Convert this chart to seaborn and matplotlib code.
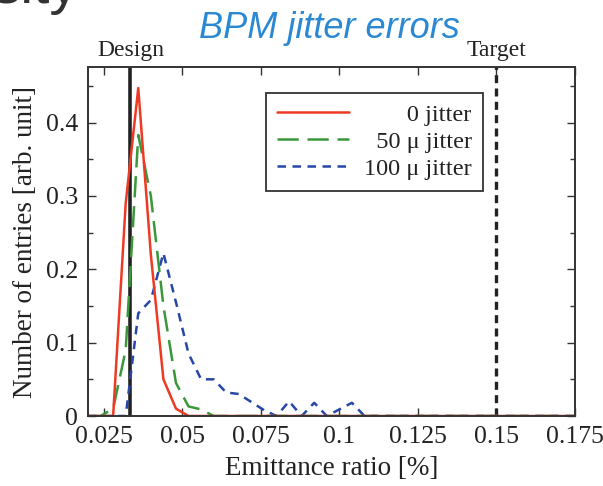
import numpy as np
import pandas as pd
import matplotlib
matplotlib.use("Agg")
import matplotlib.pyplot as plt
import seaborn as sns

# ---- data ----
emittance = [0.020, 0.024, 0.028, 0.032, 0.036, 0.040, 0.044, 0.048, 0.052, 0.056,
             0.060, 0.064, 0.068, 0.072, 0.076, 0.080, 0.084, 0.088, 0.092, 0.096,
             0.100, 0.104, 0.108, 0.112, 0.116, 0.120, 0.124, 0.128, 0.132, 0.136,
             0.140, 0.144, 0.148, 0.152, 0.156, 0.160, 0.164, 0.168, 0.172, 0.176]
jitter_0 = [0, 0, 0, 0.29, 0.447, 0.22, 0.05, 0.01, 0, 0,
            0, 0, 0, 0, 0, 0, 0, 0, 0, 0,
            0, 0, 0, 0, 0, 0, 0, 0, 0, 0,
            0, 0, 0, 0, 0, 0, 0, 0, 0, 0]
jitter_50 = [0, 0, 0.01, 0.09, 0.383, 0.30, 0.15, 0.045, 0.013, 0.009,
             0, 0, 0, 0, 0, 0, 0, 0, 0, 0,
             0, 0, 0, 0, 0, 0, 0, 0, 0, 0,
             0, 0, 0, 0, 0, 0, 0, 0, 0, 0]
jitter_100 = [0, 0, 0, 0, 0.14, 0.158, 0.222, 0.155, 0.085, 0.05,
              0.05, 0.032, 0.03, 0.019, 0.008, 0, 0.02, 0, 0.018, 0,
              0.009, 0.018, 0, 0, 0, 0, 0, 0, 0, 0,
              0, 0, 0, 0, 0, 0, 0, 0, 0, 0]
series_labels = ["0 jitter", "50 \u03bc jitter", "100 \u03bc jitter"]
design_value = 0.0335
target_value = 0.15
x_ticks = [0.025, 0.05, 0.075, 0.1, 0.125, 0.15, 0.175]
x_tick_labels = ["0.025", "0.05", "0.075", "0.1", "0.125", "0.15", "0.175"]
y_ticks = [0, 0.1, 0.2, 0.3, 0.4]
y_tick_labels = ["0", "0.1", "0.2", "0.3", "0.4"]

df = pd.DataFrame({"x": emittance, "j0": jitter_0, "j50": jitter_50, "j100": jitter_100})

sns.set_style("ticks")
plt.rcParams["font.family"] = ["Liberation Serif", "DejaVu Serif"]
plt.rcParams["mathtext.fontset"] = "stix"

fig = plt.figure(figsize=(6.03, 4.86), dpi=100)
ax = fig.add_axes([88 / 603, 70 / 486, 487 / 603, 348.5 / 486])

lw = 1.8
c_red = "#ee3a24"
c_green = "#3a973a"
c_blue = "#2747a8"

sns.lineplot(data=df, x="x", y="j100", ax=ax, color=c_blue, lw=lw,
             linestyle=(0, (3.4, 2.6)), errorbar=None, label=series_labels[2])
sns.lineplot(data=df, x="x", y="j50", ax=ax, color=c_green, lw=lw,
             linestyle=(0, (8.5, 3.5)), errorbar=None, label=series_labels[1])
sns.lineplot(data=df, x="x", y="j0", ax=ax, color=c_red, lw=lw,
             linestyle="-", errorbar=None, label=series_labels[0])

ax.axvline(design_value, color="#222222", lw=2.6, zorder=1)
ax.axvline(target_value, color="#222222", lw=2.4, linestyle=(0, (2.4, 1.6)), zorder=1)

ax.set_xlim(0.02, 0.175)
ax.set_ylim(0, 0.475)
ax.set_xticks(x_ticks)
ax.set_xticklabels(x_tick_labels)
ax.set_yticks(y_ticks)
ax.set_yticklabels(y_tick_labels)
ax.set_yticks([0.05, 0.15, 0.25, 0.35, 0.45], minor=True)

ax.tick_params(which="both", direction="in", top=True, right=True,
               color="#333333", width=1.0, labelsize=18.5, labelcolor="#222222")
ax.tick_params(which="major", length=6, pad=7)
ax.tick_params(which="minor", length=3.5)
for sp in ax.spines.values():
    sp.set_color("#333333")
    sp.set_linewidth(1.4)

ax.set_xlabel("Emittance ratio [%]", fontsize=19.5, color="#222222", labelpad=6)
ax.set_ylabel("Number of entries [arb. unit]", fontsize=19.5, color="#222222", labelpad=6)

# legend: reorder so 0 jitter is first, pad labels for right-aligned look
handles, labels = ax.get_legend_handles_labels()
order = [2, 1, 0]
pads = ["       ", "  ", ""]
leg = ax.legend([handles[i] for i in order],
                [pads[k] + labels[i] for k, i in enumerate(order)],
                loc="upper right", bbox_to_anchor=(0.811, 0.927),
                fontsize=17.5, frameon=True, fancybox=False, framealpha=1,
                edgecolor="#333333", handlelength=3.0, handletextpad=0.6,
                labelspacing=0.2, borderpad=0.45, borderaxespad=0)
leg.get_frame().set_linewidth(1.3)
for t in leg.get_texts():
    t.set_color("#222222")

xt = ax.get_xaxis_transform()
ax.text(design_value, 1.032, "Design", transform=xt, ha="center", va="baseline",
        fontsize=17, color="#222222")
ax.text(target_value, 1.032, "Target", transform=xt, ha="center", va="baseline",
        fontsize=17, color="#222222")

fig.text(329 / 603, 1 - 38 / 486, "BPM jitter errors", ha="center", va="baseline",
         fontsize=26, style="italic", color="#2b88d3", family=["Liberation Sans", "DejaVu Sans"])
fig.text(-9 / 603, 1 - 3 / 486, "sity", ha="left", va="baseline",
         fontsize=42, color="#333333", family=["Liberation Sans", "DejaVu Sans"])

fig.savefig("out.png", dpi=100)
